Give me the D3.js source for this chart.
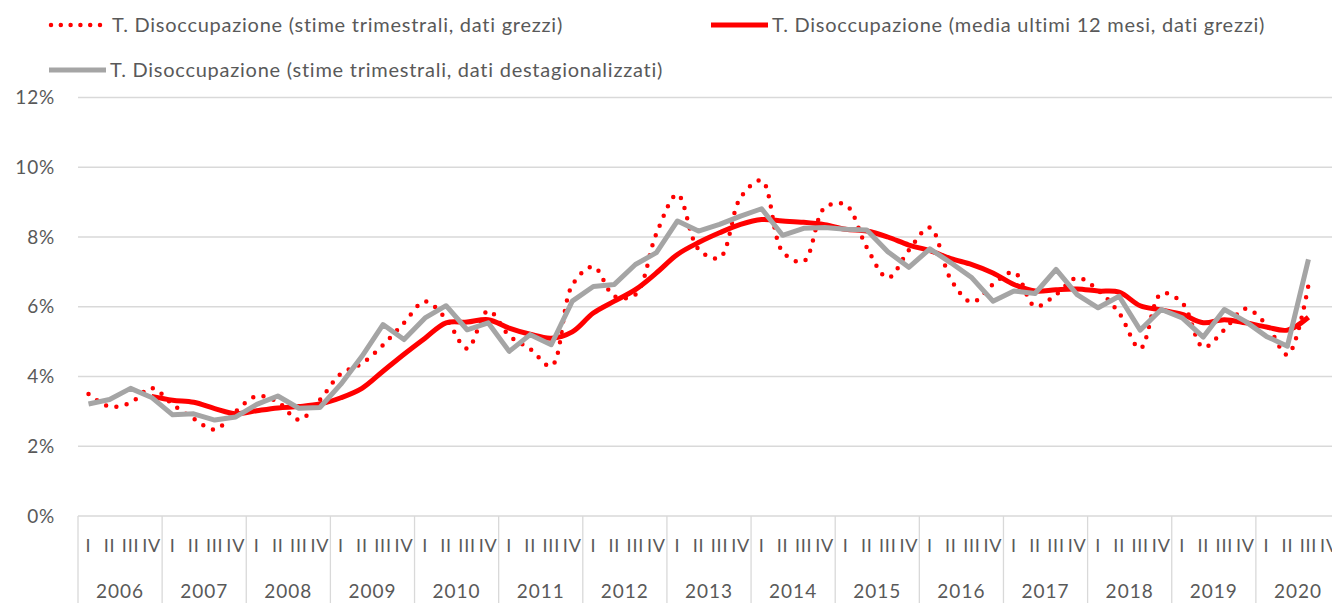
<!DOCTYPE html>
<html>
<head>
<meta charset="utf-8">
<script src="https://cdn.jsdelivr.net/npm/d3@7"></script>
<style>
  html, body { margin: 0; padding: 0; background: #fff; overflow: hidden; }
  svg text { font-family: Lato, "Open Sans", sans-serif; fill: #595959; }
</style>
</head>
<body>
<div id="chart"></div>
<script>
// Tasso di disoccupazione 2006-2020, valori in %
const years = ['2006', '2007', '2008', '2009', '2010', '2011', '2012', '2013',
               '2014', '2015', '2016', '2017', '2018', '2019', '2020'];
const quarterLabels = ['I', 'II', 'III', 'IV'];

// stime trimestrali, dati grezzi (2006 I ... 2020 III)
const rawQuarterly = [
  3.50, 3.14, 3.25, 3.67,  3.20, 2.79, 2.48, 3.00,  3.44, 3.27, 2.76, 3.33,
  4.08, 4.37, 4.90, 5.54,  6.15, 5.65, 4.80, 5.89,  5.17, 4.79, 4.30, 6.62,
  7.15, 6.30, 6.35, 8.10,  9.22, 7.65, 7.40, 9.13,  9.62, 7.58, 7.30, 8.84,
  8.92, 7.70, 6.83, 7.62,  8.27, 6.78, 6.13, 6.64,  6.99, 6.01, 6.35, 6.83,
  6.47, 5.82, 4.80, 6.38,  6.11, 4.84, 5.34, 5.94,  5.49, 4.62, 6.62
];

// media ultimi 12 mesi, dati grezzi (dal 2006 IV)
const avg12Months = [
  null, null, null, 3.43,  3.32, 3.26, 3.08, 2.93,  3.02, 3.10, 3.14, 3.21,
  3.39, 3.66, 4.15, 4.64,  5.10, 5.54, 5.56, 5.63,  5.39, 5.21, 5.10, 5.28,
  5.82, 6.16, 6.49, 6.97,  7.50, 7.84, 8.12, 8.36,  8.50, 8.46, 8.42, 8.35,
  8.22, 8.17, 8.00, 7.77,  7.61, 7.38, 7.21, 6.97,  6.64, 6.45, 6.49, 6.51,
  6.45, 6.42, 6.03, 5.91,  5.78, 5.54, 5.63, 5.54,  5.42, 5.33, 5.70
];

// stime trimestrali, dati destagionalizzati
const seasonallyAdjusted = [
  3.21, 3.34, 3.66, 3.40,  2.90, 2.93, 2.75, 2.84,  3.20, 3.44, 3.09, 3.11,
  3.78, 4.58, 5.49, 5.06,  5.68, 6.03, 5.34, 5.54,  4.72, 5.20, 4.91, 6.16,
  6.58, 6.64, 7.21, 7.55,  8.46, 8.17, 8.36, 8.60,  8.81, 8.05, 8.25, 8.27,
  8.22, 8.20, 7.58, 7.13,  7.66, 7.26, 6.83, 6.16,  6.45, 6.38, 7.07, 6.35,
  5.97, 6.30, 5.33, 5.92,  5.68, 5.13, 5.92, 5.58,  5.15, 4.87, 7.36
];

const yTicks = [0, 2, 4, 6, 8, 10, 12];

const legendLabels = [
  'T. Disoccupazione (stime trimestrali, dati grezzi)',
  'T. Disoccupazione (media ultimi 12 mesi, dati grezzi)',
  'T. Disoccupazione (stime trimestrali, dati destagionalizzati)'
];

const width = 1332, height = 603;
const RED = '#ff0000', GREY = '#a5a5a5', GRID = '#d9d9d9';

const svg = d3.select('#chart')
  .append('svg')
  .attr('width', width)
  .attr('height', height);

// one band per quarter; the axis runs past the right edge as in the original
const quarters = [];
years.forEach(y => quarterLabels.forEach(q => quarters.push(y + '-' + q)));

const x = d3.scaleBand().domain(quarters).range([78, 1340]);
const xc = i => x(quarters[i]) + x.bandwidth() / 2;
const y = d3.scaleLinear().domain([0, 12]).range([516, 97.5]);

// gridlines
svg.append('g')
  .selectAll('line')
  .data(yTicks.filter(d => d > 0))
  .enter()
  .append('line')
  .attr('x1', 78).attr('x2', width)
  .attr('y1', d => y(d)).attr('y2', d => y(d))
  .attr('stroke', GRID)
  .attr('stroke-width', 1.3);

// y labels
svg.append('g')
  .selectAll('text')
  .data(yTicks)
  .enter()
  .append('text')
  .attr('x', 55)
  .attr('y', d => y(d))
  .attr('dy', '0.35em')
  .attr('text-anchor', 'end')
  .attr('font-size', '19px')
  .attr('letter-spacing', '0.8px')
  .text(d => d + '%');

// category axis: baseline + year separators
const axis = svg.append('g');
axis.append('line')
  .attr('x1', 78).attr('x2', width)
  .attr('y1', y(0)).attr('y2', y(0))
  .attr('stroke', GRID).attr('stroke-width', 1.3);

axis.selectAll('.sep')
  .data(years)
  .enter()
  .append('line')
  .attr('class', 'sep')
  .attr('x1', d => x(d + '-I')).attr('x2', d => x(d + '-I'))
  .attr('y1', y(0)).attr('y2', height)
  .attr('stroke', GRID).attr('stroke-width', 1.3);

axis.selectAll('.q')
  .data(quarters)
  .enter()
  .append('text')
  .attr('class', 'q')
  .attr('x', (d, i) => xc(i))
  .attr('y', 546)
  .attr('dy', '0.35em')
  .attr('text-anchor', 'middle')
  .attr('font-size', '18px')
  .attr('letter-spacing', '0.8px')
  .text(d => d.split('-')[1]);

axis.selectAll('.yr')
  .data(years)
  .enter()
  .append('text')
  .attr('class', 'yr')
  .attr('x', d => x(d + '-I') + x.bandwidth() * 2)
  .attr('y', 591)
  .attr('dy', '0.35em')
  .attr('text-anchor', 'middle')
  .attr('font-size', '19px')
  .attr('letter-spacing', '1px')
  .text(d => d);

// series
const smooth = d3.line()
  .defined(d => d != null)
  .x((d, i) => xc(i))
  .y(d => y(d))
  .curve(d3.curveCatmullRom.alpha(0.5));

const straight = d3.line()
  .defined(d => d != null)
  .x((d, i) => xc(i))
  .y(d => y(d));

svg.append('path')
  .attr('d', smooth(rawQuarterly))
  .attr('fill', 'none')
  .attr('stroke', RED)
  .attr('stroke-width', 4.5)
  .attr('stroke-linecap', 'round')
  .attr('stroke-dasharray', '0 10.5');

svg.append('path')
  .attr('d', smooth(avg12Months))
  .attr('fill', 'none')
  .attr('stroke', RED)
  .attr('stroke-width', 5)
  .attr('stroke-linejoin', 'round');

svg.append('path')
  .attr('d', straight(seasonallyAdjusted))
  .attr('fill', 'none')
  .attr('stroke', GREY)
  .attr('stroke-width', 5)
  .attr('stroke-linejoin', 'round');

// legend
const legendItems = [
  { x: 48, y: 25, color: RED, dash: '0 9.8', w: 4.5, label: legendLabels[0] },
  { x: 708, y: 25, color: RED, dash: null, w: 5, label: legendLabels[1] },
  { x: 46, y: 70, color: GREY, dash: null, w: 5, label: legendLabels[2] }
];

const legend = svg.append('g')
  .selectAll('g')
  .data(legendItems)
  .enter()
  .append('g')
  .attr('transform', d => `translate(${d.x},${d.y})`);

legend.append('line')
  .attr('x1', 3).attr('x2', 60)
  .attr('stroke', d => d.color)
  .attr('stroke-width', d => d.w)
  .attr('stroke-linecap', d => d.dash ? 'round' : 'butt')
  .attr('stroke-dasharray', d => d.dash);

legend.append('text')
  .attr('x', 64)
  .attr('dy', '0.35em')
  .attr('font-size', '20px')
  .attr('letter-spacing', '0.75px')
  .text(d => d.label);
</script>
</body>
</html>
